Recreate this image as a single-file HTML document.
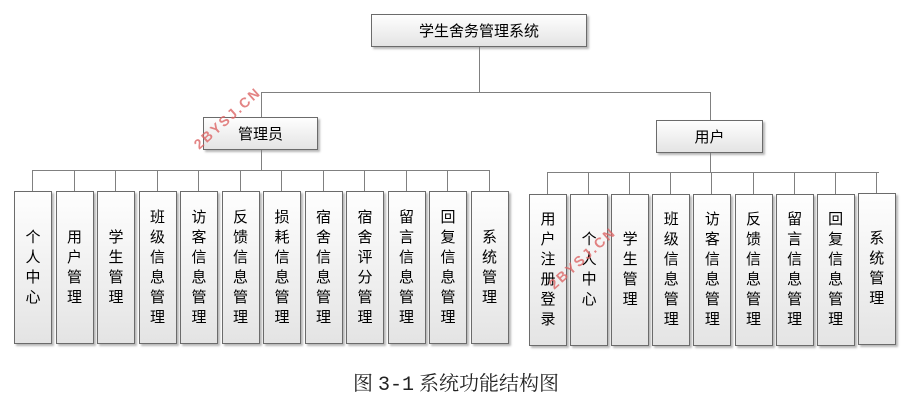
<!DOCTYPE html>
<html><head><meta charset="utf-8"><style>
body{margin:0;background:#fff;width:912px;height:402px;position:relative;overflow:hidden;font-family:"Liberation Sans","Noto Sans CJK SC",sans-serif;}
.b{position:absolute;box-sizing:border-box;border:1px solid #6b6b6b;background:linear-gradient(#fefefe,#e4e4e4);box-shadow:2px 2px 2px #b8b8b8;display:flex;align-items:center;justify-content:center;font-size:15px;color:#000;}
.v span{display:block;width:16px;line-height:20px;text-align:center;word-break:break-all;}
.h{position:absolute;height:1px;background:#808080;}
.l{position:absolute;width:1px;background:#808080;}
.wm{position:absolute;color:#d66;font-size:14px;font-weight:bold;transform:rotate(-42deg);letter-spacing:2px;opacity:.8;}
.cap{position:absolute;left:0;width:912px;top:367px;text-align:center;font-family:"Liberation Serif","Noto Serif CJK SC",serif;font-size:20px;color:#222;}
.cap .m{font-family:"Liberation Mono",monospace;}
</style></head><body>
<div class="b" style="left:371px;top:14px;width:216px;height:33px;">学生舍务管理系统</div>
<div class="l" style="left:479px;top:47px;height:45px"></div>
<div class="h" style="left:261px;top:92px;width:450px"></div>
<div class="l" style="left:261px;top:92px;height:25px"></div>
<div class="l" style="left:710px;top:92px;height:28px"></div>
<div class="b" style="left:203px;top:117px;width:115px;height:33px;">管理员</div>
<div class="b" style="left:656px;top:120px;width:107px;height:33px;">用户</div>
<div class="l" style="left:261px;top:150px;height:20px"></div>
<div class="l" style="left:710px;top:153px;height:19px"></div>
<div class="h" style="left:33px;top:170px;width:457px"></div>
<div class="h" style="left:548px;top:172px;width:331px"></div>
<div id="a"></div>
<div class="wm" style="left:185px;top:110px;">2BYSJ.CN</div>
<div class="wm" style="left:540px;top:250px;">2BYSJ.CN</div>
<div class="cap">图 <span class="m">3-1</span> 系统功能结构图</div>
<script>
var A=["个人中心","用户管理","学生管理","班级信息管理","访客信息管理","反馈信息管理","损耗信息管理","宿舍信息管理","宿舍评分管理","留言信息管理","回复信息管理","系统管理"];
var U=["用户注册登录","个人中心","学生管理","班级信息管理","访客信息管理","反馈信息管理","留言信息管理","回复信息管理","系统管理"];
var h="";
A.forEach(function(t,i){var x=14+i*41.5;h+='<div class="l" style="left:'+Math.round(x+18)+'px;top:170px;height:21px"></div><div class="b v" style="left:'+x+'px;top:191px;width:38px;height:153px"><span>'+t+'</span></div>';});
U.forEach(function(t,i){var x=529+i*41.1;var y=i==8?193:194;h+='<div class="l" style="left:'+Math.round(x+18)+'px;top:172px;height:'+(y-172)+'px"></div><div class="b v" style="left:'+x+'px;top:'+y+'px;width:38px;height:152px"><span>'+t+'</span></div>';});
document.getElementById("a").innerHTML=h;
</script>
</body></html>
